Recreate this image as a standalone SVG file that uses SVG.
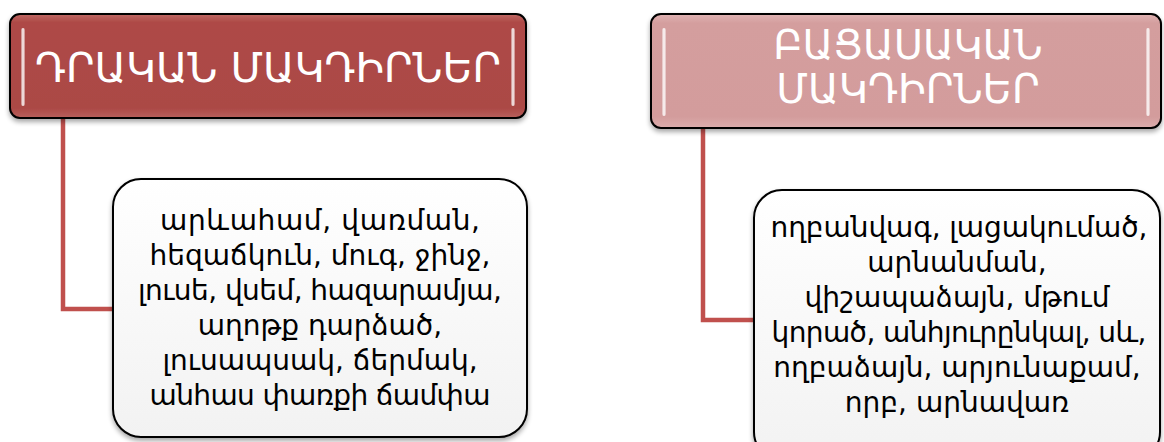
<svg xmlns="http://www.w3.org/2000/svg" width="1164" height="442" viewBox="0 0 1164 442">
<defs>
<linearGradient id="gDark" x1="0" y1="0" x2="0" y2="1">
<stop offset="0" stop-color="#c06a66"/>
<stop offset="0.08" stop-color="#ae4a47"/>
<stop offset="0.9" stop-color="#ab4845"/>
<stop offset="1" stop-color="#b8605c"/>
</linearGradient>
<linearGradient id="gLight" x1="0" y1="0" x2="0" y2="1">
<stop offset="0" stop-color="#e0b4b4"/>
<stop offset="0.08" stop-color="#d49e9e"/>
<stop offset="0.9" stop-color="#d39c9c"/>
<stop offset="1" stop-color="#dcadad"/>
</linearGradient>
<linearGradient id="gBody" x1="0" y1="0" x2="0" y2="1">
<stop offset="0" stop-color="#ffffff"/>
<stop offset="1" stop-color="#f2f2f2"/>
</linearGradient>
<linearGradient id="gHi" x1="0" y1="0" x2="1" y2="0">
<stop offset="0" stop-color="#ffffff" stop-opacity="0.3"/>
<stop offset="0.5" stop-color="#ffffff" stop-opacity="0.95"/>
<stop offset="1" stop-color="#ffffff" stop-opacity="0.3"/>
</linearGradient>
<filter id="sh" x="-5%" y="-10%" width="110%" height="130%">
<feGaussianBlur in="SourceAlpha" stdDeviation="2.5"/>
<feOffset dx="0" dy="3" result="b"/>
<feComponentTransfer><feFuncA type="linear" slope="0.35"/></feComponentTransfer>
<feMerge><feMergeNode/><feMergeNode in="SourceGraphic"/></feMerge>
</filter>
</defs>
<style>
.hdr{stroke:#000;stroke-width:2}
.body{fill:url(#gBody);stroke:#000;stroke-width:2}
.ht{fill:#fff;font-family:"DejaVu Sans",sans-serif;font-size:40px;text-anchor:middle}
.bt{fill:#000;font-family:"DejaVu Sans",sans-serif;font-size:28px;text-anchor:middle}
.hi{fill:url(#gHi)}
.conn{fill:none;stroke:#c0504d;stroke-width:4.5}
</style>
<g id="connectors">
<path class="conn" d="M63 118 V309 H113"/>
<path class="conn" d="M703 128 V320 H754"/>
</g>
<g id="node-positive">
<rect class="hdr" x="10" y="14" width="516" height="104" rx="10" fill="url(#gDark)" filter="url(#sh)"/>
<rect class="hi" x="21" y="28" width="4" height="78" rx="2"/>
<rect class="hi" x="511" y="28" width="4" height="78" rx="2"/>
<text class="ht" x="268" y="82" textLength="466" lengthAdjust="spacingAndGlyphs">ԴՐԱԿԱՆ ՄԱԿԴԻՐՆԵՐ</text>
</g>
<g id="node-negative">
<rect class="hdr" x="651" y="14" width="510" height="114" rx="10" fill="url(#gLight)" filter="url(#sh)"/>
<rect class="hi" x="662" y="28" width="4" height="88" rx="2"/>
<rect class="hi" x="1146" y="28" width="4" height="88" rx="2"/>
<text class="ht" x="908" y="59">ԲԱՑԱՍԱԿԱՆ</text>
<text class="ht" x="908" y="103">ՄԱԿԴԻՐՆԵՐ</text>
</g>
<g id="node-positive-list">
<rect class="body" x="113" y="179" width="414" height="258" rx="28" filter="url(#sh)"/>
<text class="bt" x="320" y="230" textLength="320">արևահամ, վառման,</text>
<text class="bt" x="320" y="265">հեզաճկուն, մուգ, ջինջ,</text>
<text class="bt" x="320" y="300" textLength="364">լուսե, վսեմ, հազարամյա,</text>
<text class="bt" x="320" y="335">աղոթք դարձած,</text>
<text class="bt" x="320" y="370">լուսապսակ, ճերմակ,</text>
<text class="bt" x="320" y="405" textLength="341">անհաս փառքի ճամփա</text>
</g>
<g id="node-negative-list">
<rect class="body" x="754" y="190" width="406" height="270" rx="28" filter="url(#sh)"/>
<text class="bt" x="959" y="237" textLength="377">ողբանվագ, լացակումած,</text>
<text class="bt" x="957" y="272">արնանման,</text>
<text class="bt" x="957" y="307">վիշապաձայն, մթում</text>
<text class="bt" x="959" y="342" textLength="375">կորած, անհյուրընկալ, սև,</text>
<text class="bt" x="957" y="377">ողբաձայն, արյունաքամ,</text>
<text class="bt" x="957" y="412">որբ, արնավառ</text>
</g>
</svg>
